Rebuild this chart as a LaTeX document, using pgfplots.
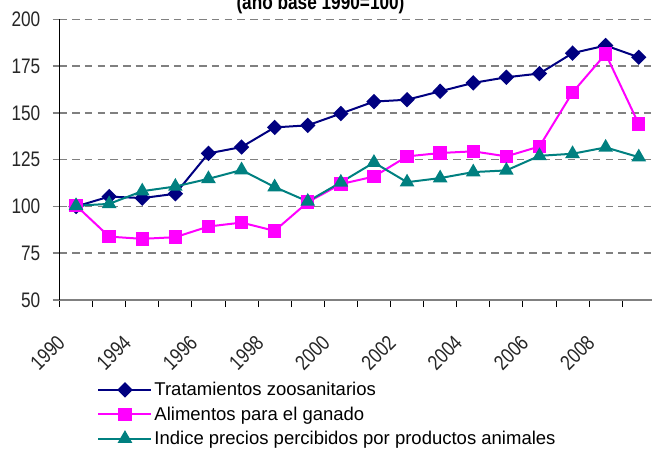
\documentclass[border=0pt]{standalone}
\usepackage{fontspec}
\setmainfont{Liberation Sans}
\newfontfamily\narrow[FakeStretch=0.82]{Liberation Sans}
\usepackage{pgfplots}
\pgfplotsset{compat=1.18}
\definecolor{navyc}{HTML}{000080}
\definecolor{magc}{HTML}{FF00FF}
\definecolor{tealc}{HTML}{008080}
\definecolor{gridc}{HTML}{808080}

\begin{document}
\begin{tikzpicture}
\begin{axis}[
  at={(59.5bp,150bp)}, anchor=south west,
  scale only axis, width=595.8bp, height=280.5bp,
  xmin=0.5, xmax=18.5, ymin=50, ymax=200,
  axis x line*=bottom, axis y line*=left,
  x axis line style={gridc, line width=2bp},
  y axis line style={black, line width=1bp},
  xtick={1,3,...,17},
  xticklabels={1990,1994,1996,1998,2000,2002,2004,2006,2008},
  minor xtick={0.5,1.5,...,17.5},
  ytick={50,75,...,200},
  yticklabels={50,75,100,125,150,175,200},
  tick align=outside,
  major tick length=7bp, minor tick length=7bp,
  major x tick style={draw=none},
  minor x tick style={black, line width=1bp},
  major y tick style={gridc, line width=1.5bp},
  ymajorgrids,
  major grid style={gridc, line width=1.5bp, dash pattern=on 7.5bp off 5.2bp},
  ticklabel style={font=\narrow\fontsize{21bp}{25bp}\selectfont, text=black!85},
  yticklabel style={anchor=east, inner sep=0pt, xshift=-12bp},
  xticklabel style={rotate=45, anchor=east, inner sep=0pt, xshift=-33.2bp, yshift=-12.3bp},
  legend style={at={(0.0634,-0.286)}, anchor=north west, draw=none, fill=none,
    font=\fontsize{18.5bp}{22bp}\selectfont, row sep=5.5bp, inner sep=0pt,
    legend cell align=left},
  legend image code/.code={\draw[mark repeat=2, mark phase=2, #1] plot coordinates {(0bp,0bp) (26.5bp,0bp) (53bp,0bp)};},
  every axis plot/.append style={line width=2bp},
]
\addplot[navyc, mark=diamond*, mark size=6.3bp, mark options={xscale=1.33, solid}] coordinates {
  (1,100) (2,105.3) (3,104.5) (4,106.8) (5,128.4) (6,131.8) (7,142.3) (8,143.4) (9,149.7)
  (10,156.1) (11,157.1) (12,161.6) (13,166.1) (14,169.1) (15,171.1) (16,182) (17,186.1) (18,179.8)};
\addplot[magc, mark=square*, mark size=5.7bp] coordinates {
  (1,100.5) (2,83.9) (3,82.7) (4,83.6) (5,89.3) (6,91.4) (7,87) (8,102.3) (9,112)
  (10,116) (11,126.8) (12,128.6) (13,129.5) (14,126.8) (15,132.1) (16,161) (17,181.6) (18,144.1)};
\addplot[tealc, mark=triangle*, mark size=6.5bp] coordinates {
  (1,100.4) (2,101.4) (3,108.2) (4,110.7) (5,114.8) (6,119.5) (7,110.4) (8,102.7) (9,112.9)
  (10,123.5) (11,113) (12,115.2) (13,118.4) (14,119.3) (15,127.1) (16,128.2) (17,131.6) (18,126.4)};
\legend{Tratamientos zoosanitarios, Alimentos para el ganado, Indice precios percibidos por productos animales}
\end{axis}
\node[anchor=base, font=\narrow\bfseries\fontsize{21bp}{25bp}\selectfont] at (320.5bp,440.5bp) {(año base 1990=100)};
\pgfresetboundingbox
\useasboundingbox (0bp,0bp) rectangle (652bp,450bp);
\end{tikzpicture}
\end{document}
